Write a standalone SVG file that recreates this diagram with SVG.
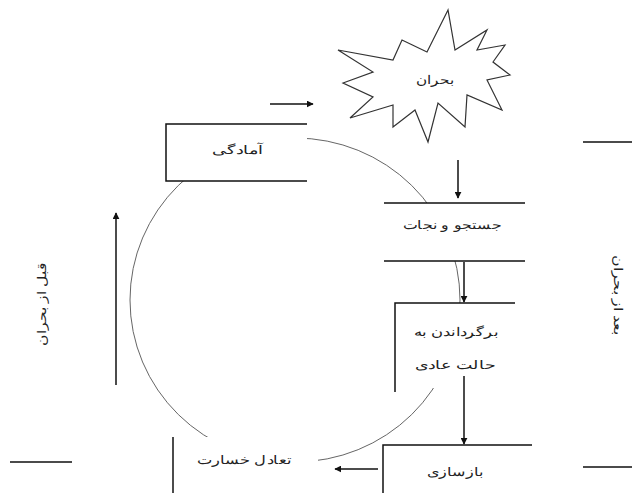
<svg xmlns="http://www.w3.org/2000/svg" width="632" height="493" viewBox="0 0 632 493">
<style>
  .ln{stroke:#111;stroke-width:1.5;fill:none}
  .bg{fill:#fff;stroke:none}
  .t{font-family:"Liberation Sans","Noto Sans",Arial,sans-serif;font-size:12px;fill:#222;text-anchor:middle;direction:rtl}
  .arc{fill:none;stroke:#666;stroke-width:1}
  .ar{stroke:#111;stroke-width:1.5;fill:none;marker-end:url(#ah)}
</style>
<defs>
  <marker id="ah" viewBox="0 0 10 10" refX="9" refY="5" markerWidth="7" markerHeight="7" markerUnits="userSpaceOnUse" orient="auto">
    <path d="M0,0 L10,5 L0,10 z" fill="#111"/>
  </marker>
</defs>
<rect width="632" height="493" fill="#fff"/>
<g id="cycle">
  <ellipse class="arc" cx="295" cy="300" rx="165" ry="162"/>
</g>
<g id="node-crisis">
  <polygon points="448,10 427,52 402,40 393,60 338,50 373,72 343,83 373,97 350,118 393,105 393,127 415,110 428,142 438,103 465,127 467,95 502,110 487,80 510,75 493,62 505,45 477,50 487,30 455,50" fill="#fff" stroke="#333" stroke-width="1.2"/>
  <text class="t" x="435" y="84" textLength="38" lengthAdjust="spacingAndGlyphs">بحران</text>
</g>
<g id="node-prep">
  <rect class="bg" x="166" y="124" width="141" height="57"/>
  <path class="ln" d="M307,124 H166 V181 H307"/>
  <text class="t" x="237" y="154" textLength="50" lengthAdjust="spacingAndGlyphs">آمادگی</text>
</g>
<g id="node-rescue">
  <rect class="bg" x="384" y="203" width="141" height="58"/>
  <path class="ln" d="M384,203 H525 M384,261 H525"/>
  <text class="t" x="452" y="229" textLength="98" lengthAdjust="spacingAndGlyphs">جستجو و نجات</text>
</g>
<g id="node-normal">
  <rect class="bg" x="395" y="303" width="120" height="85"/>
  <path class="ln" d="M515,303 H395 V392"/>
  <text class="t" x="456" y="336" textLength="84" lengthAdjust="spacingAndGlyphs">برگرداندن به</text>
  <text class="t" x="455" y="369" textLength="80" lengthAdjust="spacingAndGlyphs">حالت عادی</text>
</g>
<g id="node-rebuild">
  <rect class="bg" x="383" y="445" width="149" height="48"/>
  <path class="ln" d="M532,445 H383 V493"/>
  <text class="t" x="455" y="476" textLength="56" lengthAdjust="spacingAndGlyphs">بازسازی</text>
</g>
<g id="node-damage">
  <rect class="bg" x="173" y="437" width="145" height="56"/>
  <path class="ln" d="M173,437 V493"/>
  <text class="t" x="244" y="464" textLength="94" lengthAdjust="spacingAndGlyphs">تعادل خسارت</text>
</g>
<g id="phase-before">
  <text class="t" transform="translate(46,304) rotate(-90)" textLength="84" lengthAdjust="spacingAndGlyphs">قبل از بحران</text>
</g>
<g id="phase-after">
  <text class="t" transform="translate(614,295) rotate(90)" textLength="80" lengthAdjust="spacingAndGlyphs">بعد از بحران</text>
</g>
<g id="dividers">
  <path class="ln" d="M10,462 H72 M583,142 H632 M583,467 H632"/>
</g>
<g id="connectors">
  <line class="ar" x1="270" y1="104" x2="313" y2="104"/>
  <line class="ar" x1="458" y1="160" x2="458" y2="198"/>
  <line class="ar" x1="464" y1="262" x2="464" y2="302"/>
  <line class="ar" x1="464" y1="376" x2="464" y2="444"/>
  <line class="ar" x1="378" y1="469" x2="335" y2="469"/>
  <line class="ar" x1="116" y1="385" x2="116" y2="213"/>
</g>
</svg>
